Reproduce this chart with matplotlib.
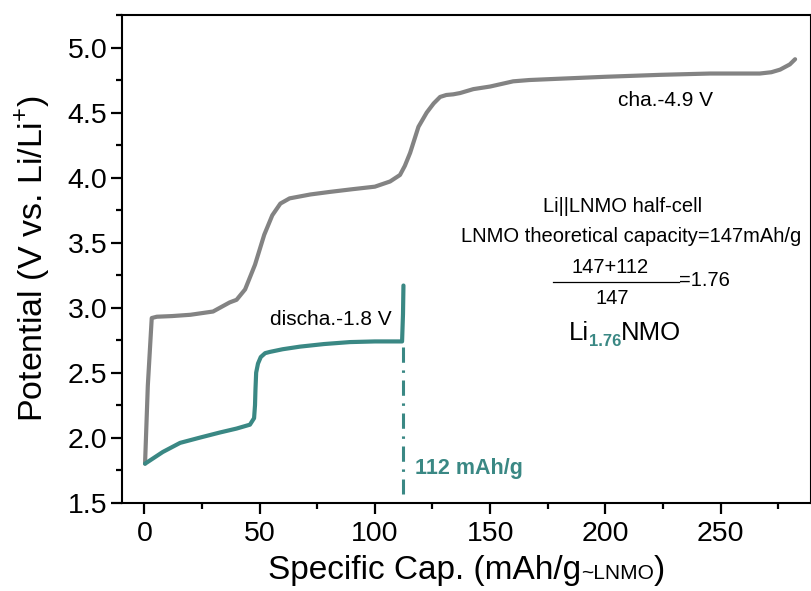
import matplotlib
matplotlib.use("Agg")
import matplotlib.pyplot as plt
from matplotlib.ticker import MultipleLocator
from matplotlib.offsetbox import TextArea, HPacker, AnchoredOffsetbox

plt.rcParams['font.family'] = ['Liberation Sans', 'DejaVu Sans']
plt.rcParams['mathtext.fontset'] = 'custom'
plt.rcParams['mathtext.rm'] = 'Liberation Sans'
plt.rcParams['mathtext.bf'] = 'Liberation Sans:bold'

# ---- data ----
charge_cap = [0.3, 1.5, 3.2, 5.4, 12, 20, 29.8, 37, 40, 43.7, 48, 52, 55.5, 59, 63,
              72, 80.6, 90, 100, 106.6, 110.9, 113, 115.3, 118.9, 122.5, 125.5, 128.3,
              131, 134, 137, 142.7, 150, 160, 167, 180, 200, 224, 245.5, 267, 272,
              275.8, 280, 282.3]
charge_v = [1.80, 2.40, 2.92, 2.93, 2.935, 2.945, 2.97, 3.04, 3.06, 3.14, 3.33, 3.56,
            3.71, 3.80, 3.84, 3.87, 3.89, 3.91, 3.93, 3.97, 4.02, 4.09, 4.19, 4.39,
            4.50, 4.57, 4.62, 4.635, 4.64, 4.65, 4.68, 4.70, 4.74, 4.75, 4.76, 4.775,
            4.79, 4.80, 4.80, 4.81, 4.83, 4.87, 4.91]

dis_cap = [0.3, 8, 15.5, 24, 32.8, 40, 45.8, 47.6, 48.0, 48.2, 48.5, 49.3, 50.5, 52.4,
           54.6, 60, 67.5, 78, 89.2, 100, 111.8, 112.2, 112.4]
dis_v = [1.80, 1.89, 1.96, 2.00, 2.04, 2.07, 2.10, 2.15, 2.25, 2.37, 2.50, 2.57, 2.62,
         2.65, 2.66, 2.68, 2.70, 2.72, 2.735, 2.74, 2.74, 2.95, 3.17]

cutoff_cap = 112.4
xticks = [0, 50, 100, 150, 200, 250]
yticks = [1.5, 2.0, 2.5, 3.0, 3.5, 4.0, 4.5, 5.0]

GRAY = '#838383'
TEAL = '#3a8884'

fig = plt.figure(figsize=(8.12, 5.91), dpi=100)
ax = fig.add_axes([122/812, 1-502.7/591, (811-122)/812, (502.7-15)/591])

ax.plot(charge_cap, charge_v, color=GRAY, lw=3.0, solid_capstyle='round', solid_joinstyle='round')
ax.plot(dis_cap, dis_v, color=TEAL, lw=3.0, solid_capstyle='round', solid_joinstyle='round')
ax.plot([cutoff_cap, cutoff_cap], [2.70, 1.57], color=TEAL, lw=2.2,
        linestyle=(0, (5, 2.5, 0.8, 2.5)))

ax.set_xlim(-9.7, 289.2)
ax.set_ylim(1.5, 5.25)
ax.set_xticks(xticks)
ax.set_yticks(yticks)
ax.set_yticklabels([f"{v:.1f}" for v in yticks])
ax.xaxis.set_minor_locator(MultipleLocator(25))
ax.yaxis.set_minor_locator(MultipleLocator(0.25))
ax.tick_params(which='both', direction='out', width=1.6, labelsize=20.5, top=False, right=False)
ax.tick_params(which='major', length=8)
ax.tick_params(which='minor', length=4.5)
ax.tick_params(axis='y', which='major', pad=2.5)
ax.tick_params(axis='x', which='major', pad=5)
for s in ax.spines.values():
    s.set_linewidth(1.5)

ax.set_ylabel(r"Potential (V vs. Li/Li$^{\mathregular{+}}$)", fontsize=24.5)
ax.yaxis.set_label_coords(-0.101, 0.5)

# x label with small "~LNMO"
parts = [TextArea("Specific Cap. (mAh/g", textprops=dict(fontsize=24)),
         TextArea("~LNMO", textprops=dict(fontsize=15)),
         TextArea(")", textprops=dict(fontsize=24))]
pk = HPacker(children=parts, align="baseline", pad=0, sep=0)
ab = AnchoredOffsetbox(loc='upper center', child=pk, pad=0, borderpad=0, frameon=False,
                       bbox_to_anchor=(0.5, -0.108), bbox_transform=ax.transAxes)
ax.add_artist(ab)

# annotations
FS = 15
ax.text(226, 4.59, "cha.-4.9 V", fontsize=FS, ha='center', va='center')
ax.text(81, 2.905, "discha.-1.8 V", fontsize=FS, ha='center', va='center')
ax.text(207.5, 3.78, "Li||LNMO half-cell", fontsize=FS - 0.5, ha='center', va='center')
ax.text(211, 3.55, "LNMO theoretical capacity=147mAh/g", fontsize=FS - 0.5, ha='center', va='center')
ax.text(202, 3.305, "147+112", fontsize=FS - 0.5, ha='center', va='center')
ax.plot([177.3, 232], [3.195, 3.195], color='black', lw=0.9)
ax.text(203, 3.07, "147", fontsize=FS - 0.5, ha='center', va='center')
ax.text(232, 3.21, "=1.76", fontsize=FS - 0.5, ha='left', va='center')

t_li = ax.text(184, 2.75, "Li", fontsize=18.5, ha='left', va='baseline')
t_sub = ax.annotate("1.76", xy=(1, 0), xycoords=t_li, xytext=(0, -3), textcoords='offset points',
                    fontsize=12, fontweight='bold', color=TEAL, ha='left', va='bottom')
ax.annotate("NMO", xy=(1, 0), xycoords=(t_sub, t_li), fontsize=18.5, ha='left', va='bottom')

ax.text(117.6, 1.76, "112 mAh/g", fontsize=15.5, fontweight='bold', color=TEAL,
        ha='left', va='center')

fig.savefig("out.png", dpi=100)
